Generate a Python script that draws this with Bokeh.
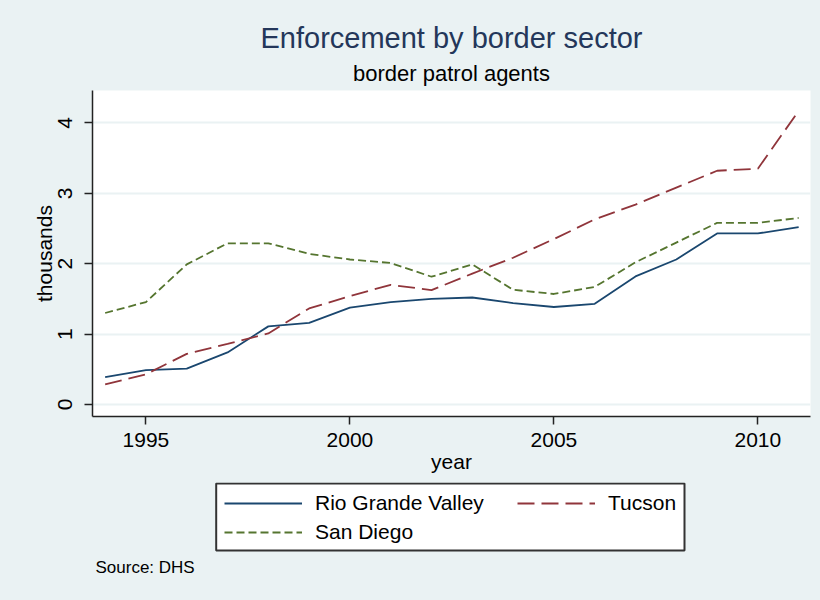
from bokeh.plotting import figure
from bokeh.layouts import column
from bokeh.models import (Range1d, Legend, LegendItem, Title, FixedTicker, Label,
                          BoxAnnotation)
from bokeh.embed import file_html
from bokeh.resources import INLINE

# ---- data (thousands of agents) ----
years = list(range(1994, 2012))
rio_grande = [0.39, 0.49, 0.51, 0.74, 1.11, 1.16, 1.375, 1.455, 1.50, 1.52,
              1.44, 1.385, 1.43, 1.82, 2.06, 2.43, 2.43, 2.52]
tucson = [0.285, 0.43, 0.72, 0.86, 1.01, 1.365, 1.54, 1.70, 1.625, 1.86,
          2.085, 2.35, 2.63, 2.84, 3.08, 3.32, 3.35, 4.17]
san_diego = [1.30, 1.455, 1.99, 2.29, 2.29, 2.14, 2.06, 2.01, 1.815, 1.99,
             1.63, 1.57, 1.67, 2.02, 2.30, 2.58, 2.58, 2.65]
series_names = ["Rio Grande Valley", "Tucson", "San Diego"]
series_colors = ["#1a476f", "#90353b", "#55752f"]
series_dashes = ["solid", "17 7", "8 4"]
x_ticks = [1995, 2000, 2005, 2010]
y_ticks = [0, 1, 2, 3, 4]

BG = "#eaf2f3"
FONT = "Liberation Sans"

# ---------------- main chart ----------------
p = figure(width=820, height=482, output_backend="svg", toolbar_location=None,
           title=None,
           x_range=Range1d(1993.69, 2011.29), y_range=Range1d(-0.17, 4.46),
           min_border_left=92, min_border_right=10, min_border_top=90,
           min_border_bottom=66)
p.background_fill_color = "white"
p.border_fill_color = BG
p.outline_line_color = None

series = [rio_grande, tucson, san_diego]
for vals, col, dash in zip(series, series_colors, series_dashes):
    p.line(years, vals, line_color=col, line_width=1.8, line_dash=dash)

p.xgrid.visible = False
p.ygrid.grid_line_color = BG
p.ygrid.grid_line_width = 2
p.ygrid.ticker = FixedTicker(ticks=y_ticks)

for ax in (p.xaxis[0], p.yaxis[0]):
    ax.axis_line_color = "#222222"
    ax.axis_line_width = 1.5
    ax.major_tick_line_color = "#222222"
    ax.major_tick_line_width = 1.5
    ax.major_tick_out = 8
    ax.major_tick_in = 0
    ax.minor_tick_line_color = None
    ax.major_label_text_font = FONT
    ax.major_label_text_font_size = "21px"
    ax.major_label_text_color = "black"
    ax.axis_label_text_font = FONT
    ax.axis_label_text_font_size = "21px"
    ax.axis_label_text_font_style = "normal"
    ax.axis_label_text_color = "black"

p.xaxis.ticker = FixedTicker(ticks=x_ticks)
p.yaxis.ticker = FixedTicker(ticks=y_ticks)
p.xaxis.axis_label = "year"
p.yaxis.axis_label = "thousands"
p.yaxis.major_label_orientation = "vertical"
p.xaxis.major_label_standoff = 8
p.yaxis.major_label_standoff = 12
p.xaxis.axis_label_standoff = 0
p.yaxis.axis_label_standoff = 0

# titles (first added is closest to the frame)
p.add_layout(Title(text="border patrol agents", align="center",
                   text_font=FONT, text_font_size="22px",
                   text_font_style="normal", text_color="black"), "above")
p.add_layout(Title(text="Enforcement by border sector", align="center",
                   text_font=FONT, text_font_size="29px", standoff=0,
                   text_font_style="normal", text_color="#24375a"), "above")

# ---------------- legend + source strip ----------------
# this strip's frame is aligned with the chart's frame (x: 92..810 px),
# its ranges are set in page pixels so the box can be placed directly
q = figure(width=820, height=118, output_backend="svg", toolbar_location=None,
           title=None, x_range=Range1d(92, 810), y_range=Range1d(600, 482),
           x_axis_location=None, y_axis_location=None,
           min_border_left=0, min_border_right=0, min_border_top=0,
           min_border_bottom=0)
q.background_fill_color = BG
q.border_fill_color = BG
q.outline_line_color = None
q.xgrid.visible = False
q.ygrid.visible = False

# proxy renderers (same data, out of this strip's view) used for legend glyphs
proxies = [q.line(years, vals, line_color=col, line_width=1.8, line_dash=dash)
           for vals, col, dash in zip(series, series_colors, series_dashes)]

q.add_layout(BoxAnnotation(left=215.7, right=684, top=483, bottom=550,
                           fill_color="white", fill_alpha=1,
                           line_color="#333333", line_width=2, line_alpha=1))

common = dict(orientation="vertical", glyph_width=78, glyph_height=24,
              label_height=24, label_standoff=13, spacing=5, padding=0,
              margin=0, border_line_color=None, background_fill_alpha=0,
              label_text_font=FONT, label_text_font_size="21px",
              label_text_color="black")
leg_a = Legend(items=[LegendItem(label=series_names[0], renderers=[proxies[0]]),
                      LegendItem(label=series_names[2], renderers=[proxies[2]])],
               location=(132, 56), **common)
leg_b = Legend(items=[LegendItem(label=series_names[1], renderers=[proxies[1]])],
               location=(425, 85), **common)
q.add_layout(leg_a)
q.add_layout(leg_b)

q.add_layout(Label(x=95, y=567, text="Source: DHS", text_font=FONT,
                   text_font_size="17px", text_color="black",
                   text_baseline="middle", text_align="left"))

layout = column(p, q, spacing=0, styles={"background-color": BG})
open("out.html", "w").write(file_html(layout, INLINE))
